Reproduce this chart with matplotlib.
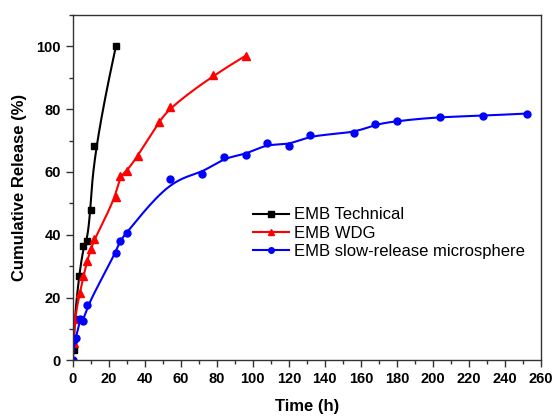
import matplotlib
matplotlib.use('Agg')
import matplotlib.pyplot as plt
import numpy as np

plt.rcParams['font.family'] = ['Liberation Sans', 'DejaVu Sans']

# Release data
tech_t = [0.5, 1, 3.5, 6, 8, 10, 12, 24]
tech_y = [3.3, 13.3, 26.8, 36.3, 38.1, 47.9, 68.4, 100]

wdg_t = [0.5, 1, 4, 6, 8, 10, 12, 24, 26, 30, 36, 48, 54, 78, 96]
wdg_y = [5.4, 13.3, 21.5, 26.8, 31.6, 35.3, 38.5, 52, 58.6, 60.2, 65, 76, 80.7, 90.8, 97]

micro_t = [0, 1, 2, 4, 6, 8, 24, 26, 30, 54, 72, 84, 96, 108, 120, 132, 156, 168,
           180, 204, 228, 252]
micro_y = [0, 6.4, 7.2, 13.3, 12.4, 17.5, 34.3, 38, 40.6, 57.6, 59.5, 64.7, 65.4,
           69.1, 68.4, 71.8, 72.3, 75.2, 76.2, 77.6, 77.9, 78.6]


def bspline(x, y, n=400):
    """clamped cubic B-spline through the data as control points (like Origin)"""
    pts = np.column_stack([x, y]).astype(float)
    k = 3
    m = len(pts)
    knots = np.concatenate([np.zeros(k), np.linspace(0, 1, m - k + 1), np.ones(k)])
    u = np.linspace(0, 1, n)
    u[-1] -= 1e-9

    def basis(i, d, t):
        if d == 0:
            return ((knots[i] <= t) & (t < knots[i + 1])).astype(float)
        a = 0.0
        b = 0.0
        if knots[i + d] != knots[i]:
            a = (t - knots[i]) / (knots[i + d] - knots[i]) * basis(i, d - 1, t)
        if knots[i + d + 1] != knots[i + 1]:
            b = (knots[i + d + 1] - t) / (knots[i + d + 1] - knots[i + 1]) * basis(i + 1, d - 1, t)
        return a + b

    out = np.zeros((n, 2))
    for i in range(m):
        out += basis(i, k, u)[:, None] * pts[i]
    return out[:, 0], out[:, 1]


fig = plt.figure(figsize=(5.54, 4.16), dpi=100)
ax = fig.add_axes([0.1312, 0.1339, 0.8453, 0.8301])

series = [
    (tech_t, tech_y, 'black', 's', 4.2, 'EMB Technical'),
    (wdg_t, wdg_y, 'red', '^', 5.5, 'EMB WDG'),
    (micro_t, micro_y, 'blue', 'o', 5, 'EMB slow-release microsphere'),
]
for t, y, c, mk, ms, lab in series:
    sx, sy = bspline(t, y)
    ax.plot(sx, sy, color=c, lw=1.5)
    ax.plot(t, y, ls='none', marker=mk, ms=ms, color=c)
    ax.plot([], [], color=c, lw=1.5, marker=mk, ms=4, label=lab)

ax.set_xlim(0, 260)
ax.set_ylim(0, 110)
ax.set_xticks(np.arange(0, 261, 20))
ax.set_xticks(np.arange(0, 261, 10), minor=True)
ax.set_yticks(np.arange(0, 101, 20))
ax.set_yticks(np.arange(0, 111, 10), minor=True)
ax.tick_params(which='both', direction='out', width=1, colors='#333333',
               labelcolor='black', labelsize=10.5)
ax.tick_params(which='major', length=5)
ax.tick_params(which='minor', length=3)
for lbl in ax.get_xticklabels() + ax.get_yticklabels():
    lbl.set_fontweight('bold')
for sp in ax.spines.values():
    sp.set_color('#333333')
    sp.set_linewidth(1)

ax.set_xlabel('Time (h)', fontsize=12, fontweight='bold', labelpad=9)
ax.set_ylabel('Cumulative Release (%)', fontsize=12, fontweight='bold', labelpad=7)

ax.legend(loc='upper left', bbox_to_anchor=(0.37, 0.462), frameon=False,
          fontsize=12, handlelength=2.2, handletextpad=0.3, labelspacing=0.2,
          borderaxespad=0)

fig.savefig('out.png', dpi=100)
